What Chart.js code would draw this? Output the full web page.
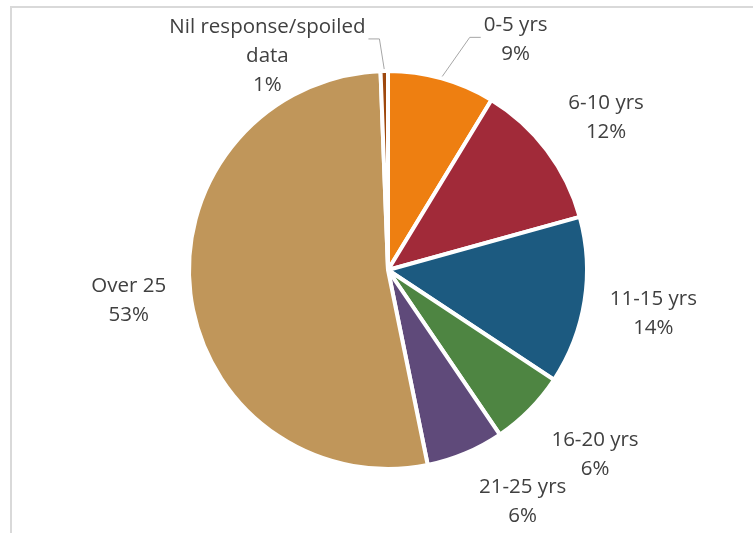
<!DOCTYPE html>
<html>
<head>
<meta charset="utf-8">
<script src="https://cdn.jsdelivr.net/npm/chart.js@4.4.0/dist/chart.umd.min.js"></script>
<style>
  html, body { margin: 0; padding: 0; background: #ffffff; }
  #wrap { position: relative; width: 753px; height: 533px; }
  #frame { position: absolute; left: 10px; top: 6px; width: 760px; height: 560px; border: 2px solid #D9D9D9; box-sizing: border-box; }
  canvas { position: absolute; left: 0; top: 0; }
</style>
</head>
<body>
<div id="wrap">
  <div id="frame"></div>
  <canvas id="c" width="753" height="533"></canvas>
</div>
<script>
// Data
const categories = ['0-5 yrs', '6-10 yrs', '11-15 yrs', '16-20 yrs', '21-25 yrs', 'Over 25', 'Nil response/spoiled data'];
const shares = [8.7, 12.0, 13.6, 6.2, 6.3, 52.6, 0.6];
const percentLabels = ['9%', '12%', '14%', '6%', '6%', '53%', '1%'];
const labelLines = [['0-5 yrs'], ['6-10 yrs'], ['11-15 yrs'], ['16-20 yrs'], ['21-25 yrs'], ['Over 25'], ['Nil response/spoiled', 'data']];
const sliceColors = ['#EE7F11', '#A12A39', '#1C5A80', '#4E8542', '#5F4A7A', '#C0965A', '#9E480E'];

// Label placement (offsets from the pie centre, in radius units) - style only
const labelOffsets = [[0.635, -1.145], [1.085, -0.76], [1.32, 0.215], [1.03, 0.92], [0.67, 1.155], [-1.29, 0.155], [-0.60, -1.065]];
const leaderLines = [true, false, false, false, false, false, true];

const FONT = '20.5px "Open Sans"';
const LINE_H = 29;

const labelPlugin = {
  id: 'pieLabels',
  afterDatasetsDraw(chart) {
    const ctx = chart.ctx;
    const meta = chart.getDatasetMeta(0);
    ctx.save();
    ctx.font = FONT;
    ctx.fillStyle = '#404040';
    ctx.textAlign = 'center';
    ctx.textBaseline = 'middle';
    meta.data.forEach((arc, i) => {
      const p = arc.getProps(['x', 'y', 'startAngle', 'endAngle', 'outerRadius'], true);
      const R = p.outerRadius + 2;
      const lx = p.x + labelOffsets[i][0] * R;
      const ly = p.y + labelOffsets[i][1] * R;
      const lines = labelLines[i].concat([percentLabels[i]]);
      const top = ly - (lines.length - 1) * LINE_H / 2;
      lines.forEach((t, k) => ctx.fillText(t, lx, top + k * LINE_H));
      if (leaderLines[i]) {
        const mid = (p.startAngle + p.endAngle) / 2;
        const ex = p.x + Math.cos(mid) * R;
        const ey = p.y + Math.sin(mid) * R;
        const firstW = ctx.measureText(lines[0]).width;
        const sy = top + 12;
        const side = ex > lx ? 1 : -1;
        const sx = lx + side * (firstW / 2 + 3);
        ctx.strokeStyle = '#A6A6A6';
        ctx.lineWidth = 1;
        ctx.beginPath();
        ctx.moveTo(sx, sy);
        ctx.lineTo(sx + side * 11, sy);
        ctx.lineTo(ex, ey);
        ctx.stroke();
      }
    });
    ctx.restore();
  }
};

new Chart(document.getElementById('c'), {
  type: 'pie',
  data: {
    labels: categories,
    datasets: [{
      data: shares,
      backgroundColor: sliceColors,
      borderColor: '#ffffff',
      borderWidth: 4,
      borderJoinStyle: 'miter'
    }]
  },
  options: {
    responsive: false,
    animation: false,
    layout: { padding: { top: 69, bottom: 62, left: 187, right: 164 } },
    plugins: { legend: { display: false }, tooltip: { enabled: false } }
  },
  plugins: [labelPlugin]
});
</script>
</body>
</html>
